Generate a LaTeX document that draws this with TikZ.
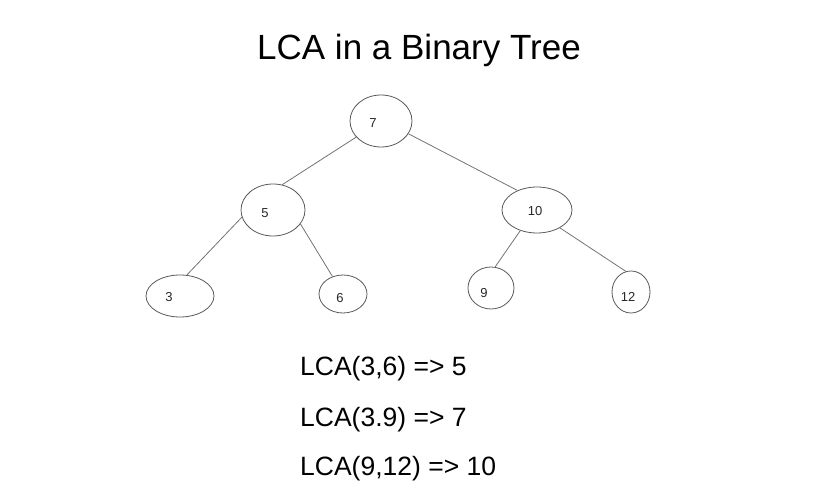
\documentclass[tikz,border=0pt]{standalone}
\usepackage{fontspec}
\setmainfont{Liberation Sans}
\usetikzlibrary{shapes.geometric}
\begin{document}
\begin{tikzpicture}[x=1pt,y=-1pt,
  tnode/.style={draw=black!65, line width=0.8pt, ellipse, inner sep=0pt},
  tlabel/.style={font=\fontsize{13}{15}\selectfont, text=black!85, inner sep=0pt},
  edge/.style={draw=black!55, line width=0.8pt},
  lbl/.style={font=\fontsize{26.5}{30}\selectfont, anchor=base west, inner sep=0pt}]
\useasboundingbox (0,0) rectangle (835,502);
\node[font=\fontsize{35}{40}\selectfont, anchor=base, inner sep=0pt] (title) at (419,60) {LCA in a Binary Tree};
\node[tnode, minimum width=62pt, minimum height=52pt] (n7) at (381,121) {};
\node[tnode, minimum width=64pt, minimum height=52pt] (n5) at (273,210) {};
\node[tnode, minimum width=70pt, minimum height=46pt] (n10) at (537,210) {};
\node[tnode, minimum width=68pt, minimum height=42pt] (n3) at (180,296) {};
\node[tnode, minimum width=48pt, minimum height=38pt] (n6) at (343,294) {};
\node[tnode, minimum width=46pt, minimum height=42pt] (n9) at (491,288) {};
\node[tnode, minimum width=38pt, minimum height=42pt] (n12) at (631,292) {};
\node[tlabel] (t7) at (373,123) {7};
\node[tlabel] (t5) at (265,213) {5};
\node[tlabel] (t10) at (535,211) {10};
\node[tlabel] (t3) at (169,297) {3};
\node[tlabel] (t6) at (340,298) {6};
\node[tlabel] (t9) at (484,293) {9};
\node[tlabel] (t12) at (628,297) {12};
\draw[edge] (n7.213) -- (n5.70);
\draw[edge] (n7.335) -- (n10.135);
\draw[edge] (n5.193) -- (n3.72);
\draw[edge] (n5.333) -- (n6.121);
\draw[edge] (n10.231) -- (n9.79);
\draw[edge] (n10.322) -- (n12.104);
\node[lbl] (l1) at (300,376) {LCA(3,6) => 5};
\node[lbl] (l2) at (300,426) {LCA(3.9) => 7};
\node[lbl] (l3) at (300,475) {LCA(9,12) => 10};
\end{tikzpicture}
\end{document}
